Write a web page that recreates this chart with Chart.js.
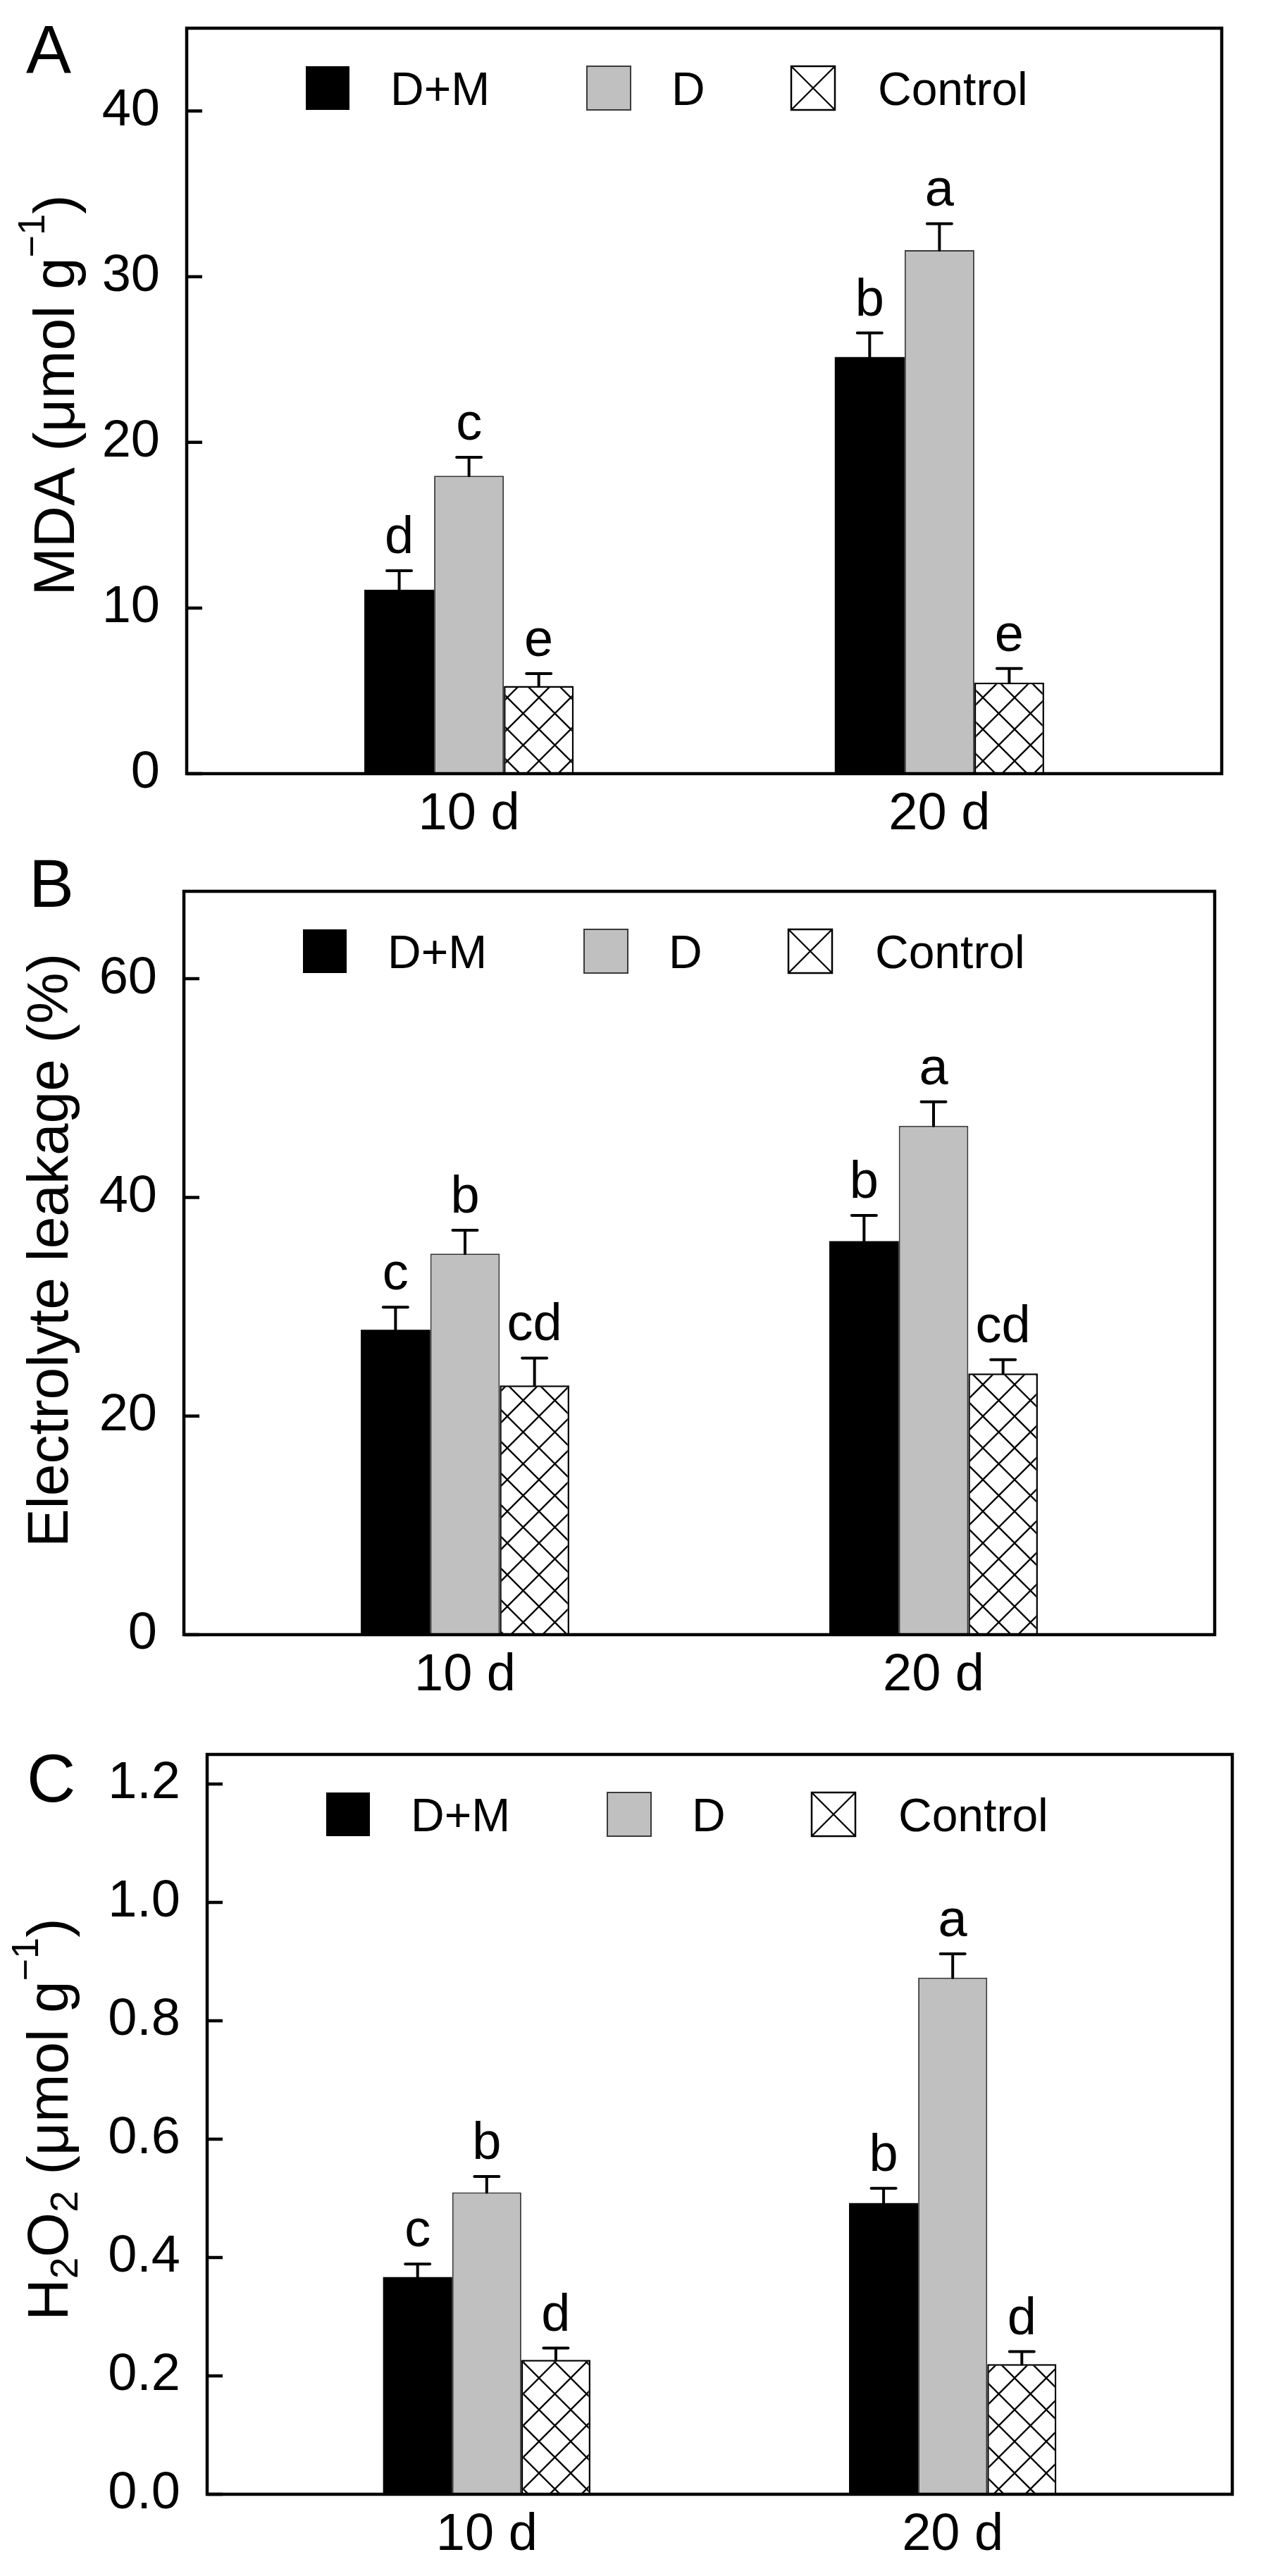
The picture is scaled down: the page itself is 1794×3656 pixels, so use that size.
<!DOCTYPE html>
<html>
<head>
<meta charset="utf-8">
<title>MDA, electrolyte leakage and H2O2</title>
<script src="https://cdn.jsdelivr.net/npm/chart.js@4.4.1/dist/chart.umd.min.js"></script>
<style>
  body { margin: 0; background: #fff; width: 1794px; height: 3656px; position: relative; }
  .panel { position: absolute; left: 0; width: 1794px; }
  .panel canvas { display: block; }
</style>
</head>
<body>
<div class="panel" style="top:0px;height:1200px"><canvas id="chartA" width="1794" height="1200" style="width:1794px;height:1200px"></canvas></div>
<div class="panel" style="top:1200px;height:1230px"><canvas id="chartB" width="1794" height="1230" style="width:1794px;height:1230px"></canvas></div>
<div class="panel" style="top:2430px;height:1226px"><canvas id="chartC" width="1794" height="1226" style="width:1794px;height:1226px"></canvas></div>
<script>
const days = ['10 d', '20 d'];
const seriesNames = ['D+M', 'D', 'Control'];

// A - MDA (umol g-1)
const mdaDM = [11.1, 25.15];
const mdaD = [17.98, 31.6];
const mdaCtl = [5.3, 5.5];
const mdaDMErr = [1.15, 1.45];
const mdaDErr = [1.12, 1.6];
const mdaCtlErr = [0.74, 0.85];
const mdaDMMarks = ['d', 'b'];
const mdaDMarks = ['c', 'a'];
const mdaCtlMarks = ['e', 'e'];
const mdaTicks = [0, 10, 20, 30, 40];

// B - electrolyte leakage (%)
const elDM = [27.9, 36.0];
const elD = [34.85, 46.55];
const elCtl = [22.8, 23.9];
const elDMErr = [2.05, 2.35];
const elDErr = [2.15, 2.2];
const elCtlErr = [2.5, 1.25];
const elDMMarks = ['c', 'b'];
const elDMarks = ['b', 'a'];
const elCtlMarks = ['cd', 'cd'];
const elTicks = [0, 20, 40, 60];

// C - H2O2 (umol g-1)
const hpDM = [0.367, 0.492];
const hpD = [0.510, 0.873];
const hpCtl = [0.227, 0.220];
const hpDMErr = [0.022, 0.025];
const hpDErr = [0.027, 0.04];
const hpCtlErr = [0.02, 0.021];
const hpDMMarks = ['c', 'b'];
const hpDMarks = ['b', 'a'];
const hpCtlMarks = ['d', 'd'];
const hpTicks = [0, 0.2, 0.4, 0.6, 0.8, 1.0, 1.2];

const FONT = '"Liberation Sans", Arial, sans-serif';

function hatchPattern(ctx) {
  const s = 45;
  const c = document.createElement('canvas');
  c.width = s; c.height = s;
  const g = c.getContext('2d');
  g.fillStyle = '#fff';
  g.fillRect(0, 0, s, s);
  g.strokeStyle = '#000';
  g.lineWidth = 2.3;
  g.beginPath();
  for (const o of [-s, 0, s]) {
    g.moveTo(o, 0); g.lineTo(o + s, s);
    g.moveTo(o + s, 0); g.lineTo(o, s);
  }
  g.stroke();
  return ctx.createPattern(c, 'repeat');
}

function drawTitle(c, parts, x, yc) {
  c.save();
  c.translate(x, yc);
  c.rotate(-Math.PI / 2);
  c.textAlign = 'left';
  c.textBaseline = 'alphabetic';
  const widths = parts.map(p => { c.font = p.size + 'px ' + FONT; return c.measureText(p.t).width; });
  let u = -widths.reduce((s, w) => s + w, 0) / 2;
  parts.forEach((p, i) => {
    c.font = p.size + 'px ' + FONT;
    c.fillText(p.t, u, p.dy);
    u += widths[i];
  });
  c.restore();
}

function makePanel(id, cfg) {
  const canvas = document.getElementById(id);
  const ctx = canvas.getContext('2d');
  const fills = ['#000000', '#c0c0c0', hatchPattern(ctx)];
  const borders = ['#000000', '#3a3a3a', '#000000'];
  const bw = [0, 2, 2.5];

  const datasets = cfg.values.map((vals, k) => ({
    label: seriesNames[k],
    data: vals.map((v, i) => ({ x: i + 1, y: v })),
    errors: cfg.errors[k],
    marks: cfg.marks[k],
    backgroundColor: fills[k],
    borderColor: borders[k],
    borderWidth: bw[k],
    borderSkipped: 'start',
    categoryPercentage: 0.445,
    barPercentage: 1
  }));

  const decor = {
    id: 'decor',
    afterDatasetsDraw(chart) {
      const c = chart.ctx, y = chart.scales.y;
      c.save();
      c.strokeStyle = '#000';
      c.fillStyle = '#000';
      c.lineWidth = 4;
      c.lineCap = 'round';
      c.font = '74px ' + FONT;
      c.textAlign = 'center';
      c.textBaseline = 'alphabetic';
      chart.data.datasets.forEach((ds, k) => {
        chart.getDatasetMeta(k).data.forEach((bar, i) => {
          const top = y.getPixelForValue(ds.data[i].y + ds.errors[i]);
          c.beginPath();
          c.moveTo(bar.x, bar.y);
          c.lineTo(bar.x, top);
          c.moveTo(bar.x - 17.5, top);
          c.lineTo(bar.x + 17.5, top);
          c.stroke();
          c.fillText(ds.marks[i], bar.x, top - 25);
        });
      });
      c.restore();
    },
    afterDraw(chart) {
      const c = chart.ctx, a = chart.chartArea, y = chart.scales.y;
      c.save();
      c.strokeStyle = '#000';
      c.fillStyle = '#000';
      c.lineWidth = 4.5;
      c.lineCap = 'butt';
      // frame
      c.strokeRect(a.left, a.top, a.right - a.left, a.bottom - a.top);
      // inward ticks
      c.beginPath();
      y.ticks.forEach(t => {
        const py = y.getPixelForValue(t.value);
        c.moveTo(a.left, py);
        c.lineTo(a.left + 22, py);
      });
      c.stroke();

      // legend inside the frame
      const boxX = [169, 568, 858];
      const textX = [289, 688, 981];
      const by = a.top + 54, bs = 62;
      c.font = '66px ' + FONT;
      c.textAlign = 'left';
      c.textBaseline = 'alphabetic';
      chart.data.datasets.forEach((ds, k) => {
        const bx = a.left + boxX[k];
        if (k === 2) {
          c.fillStyle = '#fff';
          c.fillRect(bx, by, bs, bs);
          c.lineWidth = 2.3;
          c.beginPath();
          c.moveTo(bx, by); c.lineTo(bx + bs, by + bs);
          c.moveTo(bx + bs, by); c.lineTo(bx, by + bs);
          c.stroke();
        } else {
          c.fillStyle = ds.backgroundColor;
          c.fillRect(bx, by, bs, bs);
        }
        if (ds.borderWidth) {
          c.lineWidth = ds.borderWidth;
          c.strokeStyle = ds.borderColor;
          c.strokeRect(bx, by, bs, bs);
          c.strokeStyle = '#000';
        }
        c.fillStyle = '#000';
        c.fillText(ds.label, a.left + textX[k], by + bs / 2 + 24);
      });

      // panel letter
      c.font = '96px ' + FONT;
      c.fillText(cfg.letter, cfg.letterX, cfg.letterY);

      // y axis title
      drawTitle(c, cfg.title, cfg.titleX, (a.top + a.bottom) / 2 + cfg.titleShift);
      c.restore();
    }
  };

  return new Chart(ctx, {
    type: 'bar',
    data: { datasets },
    options: {
      responsive: false,
      maintainAspectRatio: false,
      devicePixelRatio: 1,
      animation: false,
      layout: { padding: { top: cfg.padTop, right: 1794 - cfg.frameRight, bottom: 0, left: 0 } },
      plugins: { legend: { display: false }, tooltip: { enabled: false } },
      scales: {
        x: {
          type: 'linear',
          min: 0.4,
          max: 2.6,
          offset: false,
          grid: { display: false, drawTicks: false },
          border: { display: false },
          afterBuildTicks: s => { s.ticks = days.map((d, i) => ({ value: i + 1 })); },
          afterFit: s => { s.height = cfg.xHeight; s.paddingLeft = 0; s.paddingRight = 0; },
          ticks: {
            padding: 14,
            maxRotation: 0,
            autoSkip: false,
            color: '#000',
            font: { family: FONT, size: 74 },
            callback: v => days[Math.round(v) - 1]
          }
        },
        y: {
          min: 0,
          max: cfg.max,
          grid: { display: false, drawTicks: false },
          border: { display: false },
          afterBuildTicks: s => { s.ticks = cfg.ticks.map(v => ({ value: v })); },
          afterFit: s => { s.width = cfg.frameLeft; s.paddingTop = 0; s.paddingBottom = 0; },
          ticks: {
            padding: 38,
            color: '#000',
            font: { family: FONT, size: 74, lineHeight: 1 },
            callback: v => Number(v).toFixed(cfg.dec)
          }
        }
      }
    },
    plugins: [decor]
  });
}

makePanel('chartA', {
  values: [mdaDM, mdaD, mdaCtl],
  errors: [mdaDMErr, mdaDErr, mdaCtlErr],
  marks: [mdaDMMarks, mdaDMarks, mdaCtlMarks],
  ticks: mdaTicks, max: 45, dec: 0,
  frameLeft: 265, frameRight: 1734, padTop: 40, xHeight: 102,
  letter: 'A', letterX: 37, letterY: 103,
  titleX: 105, titleShift: -8,
  title: [
    { t: 'MDA (\u03bcmol g', size: 82, dy: 0 },
    { t: '\u22121', size: 54, dy: -42 },
    { t: ')', size: 82, dy: 0 }
  ]
});

makePanel('chartB', {
  values: [elDM, elD, elCtl],
  errors: [elDMErr, elDErr, elCtlErr],
  marks: [elDMMarks, elDMarks, elCtlMarks],
  ticks: elTicks, max: 68, dec: 0,
  frameLeft: 261, frameRight: 1724, padTop: 65, xHeight: 110,
  letter: 'B', letterX: 41, letterY: 87,
  titleX: 96, titleShift: -18,
  title: [
    { t: 'Electrolyte leakage (%)', size: 82, dy: 0 }
  ]
});

makePanel('chartC', {
  values: [hpDM, hpD, hpCtl],
  errors: [hpDMErr, hpDErr, hpCtlErr],
  marks: [hpDMMarks, hpDMarks, hpCtlMarks],
  ticks: hpTicks, max: 1.25, dec: 1,
  frameLeft: 294, frameRight: 1749, padTop: 60, xHeight: 116,
  letter: 'C', letterX: 38, letterY: 127,
  titleX: 96, titleShift: -7,
  title: [
    { t: 'H', size: 82, dy: 0 },
    { t: '2', size: 55, dy: 14 },
    { t: 'O', size: 82, dy: 0 },
    { t: '2', size: 55, dy: 14 },
    { t: ' (\u03bcmol g', size: 82, dy: 0 },
    { t: '\u22121', size: 54, dy: -42 },
    { t: ')', size: 82, dy: 0 }
  ]
});
</script>
</body>
</html>
